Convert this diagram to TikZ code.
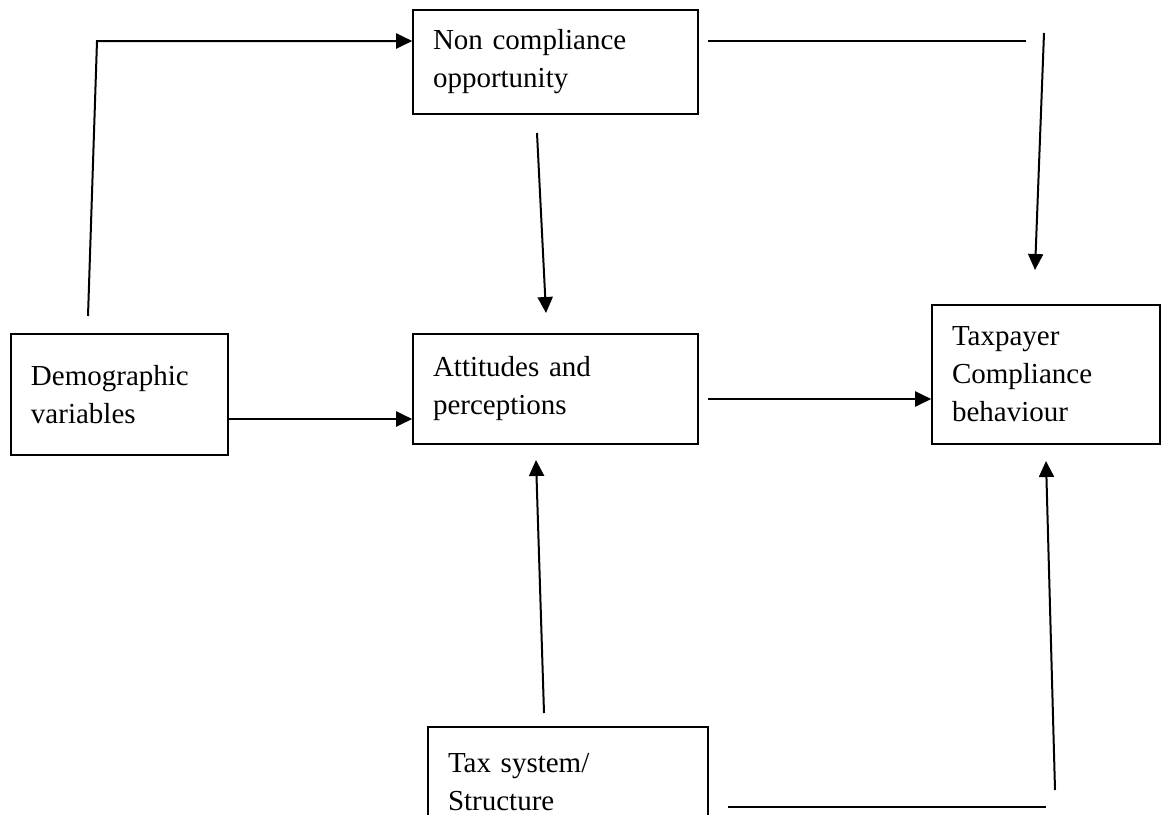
\documentclass[tikz,border=0pt]{standalone}
\usepackage{fontspec}
\setmainfont{Liberation Serif}
\usetikzlibrary{arrows.meta, positioning}

\begin{document}
\begin{tikzpicture}[
  x=0.5pt, y=-0.5pt,
  every node/.style={font=\fontsize{14.5}{19}\selectfont},
  box/.style={rectangle, draw=black, line width=0.8pt, align=left, inner xsep=10pt, inner ysep=0pt},
  arrow/.style={-{Triangle[length=8pt, width=7.5pt]}, line width=1pt},
  plainline/.style={line width=1pt},
]

% page frame (the bottom box runs past the edge)
\clip (0,0) rectangle (1171,814);

% === BOXES ===
\node[box, text width=122.5pt, minimum height=52pt] (nco) at (555.5, 62) {Non compliance\\opportunity};
\node[box, text width=88.5pt, minimum height=60.5pt] (demo) at (119.5, 394.5) {Demographic\\variables};
\node[box, text width=122.5pt, minimum height=55pt] (attit) at (555.5, 389) {Attitudes and\\perceptions};
\node[box, text width=94pt, minimum height=69.5pt] (taxpayer) at (1046, 374.5) {Taxpayer\\Compliance\\behaviour};
\node[box, text width=120pt, minimum height=55pt] (taxsys) at (568, 782) {Tax system/\\Structure};

% === FREE ENDS ===
\coordinate (demoUp) at (88, 316);
\coordinate (demoCorner) at (97, 41);
\coordinate (ncoRight) at (708, 41);
\coordinate (ncoRightEnd) at (1026, 41);
\coordinate (downStart) at (1044, 33);
\coordinate (downTip) at (1035, 270);
\coordinate (ncoDown) at (537, 133);
\coordinate (attitTop) at (546, 313);
\coordinate (demoRow) at (228, 419);
\coordinate (attitRow) at (708, 399);
\coordinate (sysUp) at (544, 713);
\coordinate (attitBottom) at (536, 460);
\coordinate (sysRight) at (728, 807);
\coordinate (sysRightEnd) at (1046, 807);
\coordinate (upStart) at (1055, 790);
\coordinate (taxBottom) at (1046, 461);

% === ARROWS: top ===
\draw[arrow] (demoUp) -- (demoCorner) -- (nco.west |- demoCorner);
\draw[plainline] (ncoRight) -- (ncoRightEnd);
\draw[arrow] (downStart) -- (downTip);
\draw[arrow] (ncoDown) -- (attitTop);

% === ARROWS: middle row ===
\draw[arrow] (demo.east |- demoRow) -- (attit.west |- demoRow);
\draw[arrow] (attitRow) -- (taxpayer.west |- attitRow);

% === ARROWS: bottom ===
\draw[arrow] (sysUp) -- (attitBottom);
\draw[plainline] (sysRight) -- (sysRightEnd);
\draw[arrow] (upStart) -- (taxBottom);

\end{tikzpicture}
\end{document}
